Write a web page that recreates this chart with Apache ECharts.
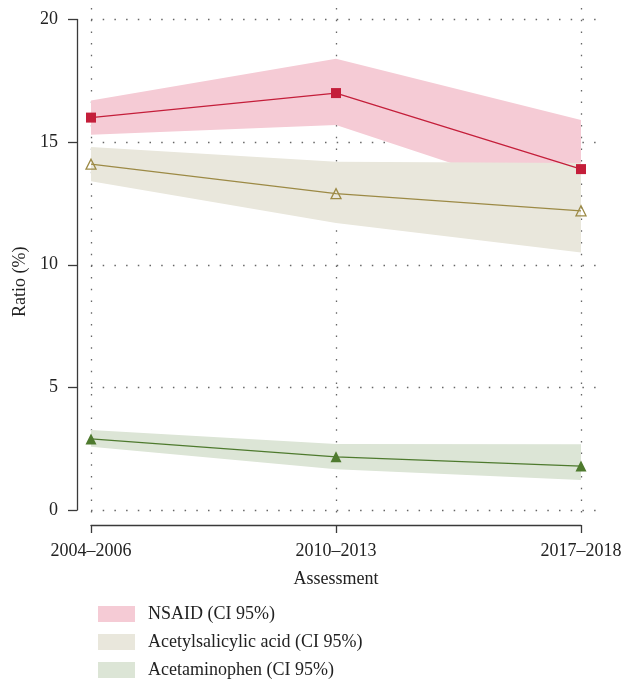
<!DOCTYPE html>
<html>
<head>
<meta charset="utf-8">
<script src="https://cdn.jsdelivr.net/npm/echarts@6/dist/echarts.min.js"></script>
<style>
  html, body { margin: 0; padding: 0; background: #fff; }
  #chart { width: 621px; height: 682px; }
</style>
</head>
<body>
<div id="chart"></div>
<script>
// periods on the x axis
const periods = ['2004–2006', '2010–2013', '2017–2018'];
const yTicks = [0, 5, 10, 15, 20];

// ratio (%) and 95% CI per drug
const nsaid = [16.0, 17.0, 13.9];
const nsaidLow = [15.3, 15.7, 12.4];
const nsaidHigh = [16.7, 18.4, 15.9];

const asa = [14.1, 12.9, 12.2];
const asaLow = [13.4, 11.7, 10.5];
const asaHigh = [14.8, 14.2, 14.15];

const apap = [2.9, 2.17, 1.79];
const apapLow = [2.58, 1.66, 1.22];
const apapHigh = [3.26, 2.69, 2.68];

const FONT = 'Liberation Serif';
const AXIS = '#3a3a3a';
const DOT = '#666';

const diff = (hi, lo) => hi.map((v, i) => v - lo[i]);

function band(name, stack, lo, hi, color) {
    return [
        {
            type: 'line', stack: stack, data: lo,
            symbol: 'none', lineStyle: { opacity: 0 }, silent: true
        },
        {
            name: name, type: 'line', stack: stack, data: diff(hi, lo),
            symbol: 'none', lineStyle: { opacity: 0 },
            areaStyle: { color: color, opacity: 1 }, silent: true
        }
    ];
}

function line(data, color, symbol, size, fill) {
    return {
        type: 'line', data: data, z: 5,
        lineStyle: { color: color, width: 1.3 },
        symbol: symbol, symbolSize: size,
        itemStyle: { color: fill, borderColor: color, borderWidth: fill === 'none' ? 1.3 : 0 }
    };
}

const chart = echarts.init(document.getElementById('chart'));

const option = {
    animation: false,
    textStyle: { fontFamily: FONT },
    grid: [
        { left: 91, right: 40, top: 19.5, height: 490.5, outerBoundsMode: 'none', containLabel: false },
        { left: 91, right: 24, top: 19.5, height: 490.5, outerBoundsMode: 'none' },
        { left: 91, right: 40, top: 8, height: 508, outerBoundsMode: 'none' }
    ],
    xAxis: [
        {
            gridIndex: 0, type: 'category', data: periods, boundaryGap: false, offset: 15,
            axisLine: { show: true, onZero: false, lineStyle: { color: AXIS, width: 1.3 } },
            axisTick: { show: true, length: 8, lineStyle: { color: AXIS, width: 1.3 } },
            axisLabel: { margin: 17, color: '#222', fontSize: 18, fontFamily: FONT },
            splitLine: { show: false },
            name: 'Assessment', nameLocation: 'middle', nameGap: 45,
            nameTextStyle: { color: '#222', fontSize: 18, fontFamily: FONT }
        },
        { gridIndex: 1, type: 'value', min: 0, max: 1, show: false },
        {
            gridIndex: 2, type: 'value', min: 0, max: 2, interval: 1,
            axisLine: { show: false }, axisTick: { show: false }, axisLabel: { show: false },
            splitLine: { show: true, lineStyle: { color: DOT, type: [1.5, 10.2], width: 1.3 } }
        }
    ],
    yAxis: [
        {
            gridIndex: 0, type: 'value', min: 0, max: 20, interval: 5, offset: 14,
            axisLine: { show: true, onZero: false, lineStyle: { color: AXIS, width: 1.3 } },
            axisTick: { show: true, length: 9, lineStyle: { color: AXIS, width: 1.3 } },
            axisLabel: { margin: 19, color: '#222', fontSize: 18, fontFamily: FONT },
            splitLine: { show: false },
            name: 'Ratio (%)', nameLocation: 'middle', nameGap: 48,
            nameTextStyle: { color: '#222', fontSize: 18, fontFamily: FONT, padding: [0, 34, 0, 0] }
        },
        {
            gridIndex: 1, type: 'value', min: 0, max: 20, interval: 5,
            axisLine: { show: false }, axisTick: { show: false }, axisLabel: { show: false },
            splitLine: { show: true, lineStyle: { color: DOT, type: [1.5, 10.2], width: 1.3 } }
        },
        { gridIndex: 2, type: 'value', min: 0, max: 1, show: false }
    ],
    legend: {
        orient: 'vertical', left: 93, top: 600, height: 120,
        itemWidth: 37, itemHeight: 16, itemGap: 10,
        textStyle: { color: '#222', fontSize: 18, lineHeight: 16, fontFamily: FONT, padding: [0, 0, 0, 8] },
        data: [
            { name: 'NSAID (CI 95%)', icon: 'rect', itemStyle: { color: '#f5cbd5' } },
            { name: 'Acetylsalicylic acid (CI 95%)', icon: 'rect', itemStyle: { color: '#e9e7dc' } },
            { name: 'Acetaminophen (CI 95%)', icon: 'rect', itemStyle: { color: '#dce5d6' } }
        ]
    },
    series: [
        ...band('NSAID (CI 95%)', 'n', nsaidLow, nsaidHigh, '#f5cbd5'),
        ...band('Acetylsalicylic acid (CI 95%)', 'a', asaLow, asaHigh, '#e9e7dc'),
        ...band('Acetaminophen (CI 95%)', 'p', apapLow, apapHigh, '#dce5d6'),
        line(nsaid, '#c41e3a', 'rect', 10, '#c41e3a'),
        line(asa, '#9c8a45', 'triangle', 10, 'none'),
        line(apap, '#4e7a2e', 'triangle', 11, '#4e7a2e')
    ]
};

chart.setOption(option);
</script>
</body>
</html>
